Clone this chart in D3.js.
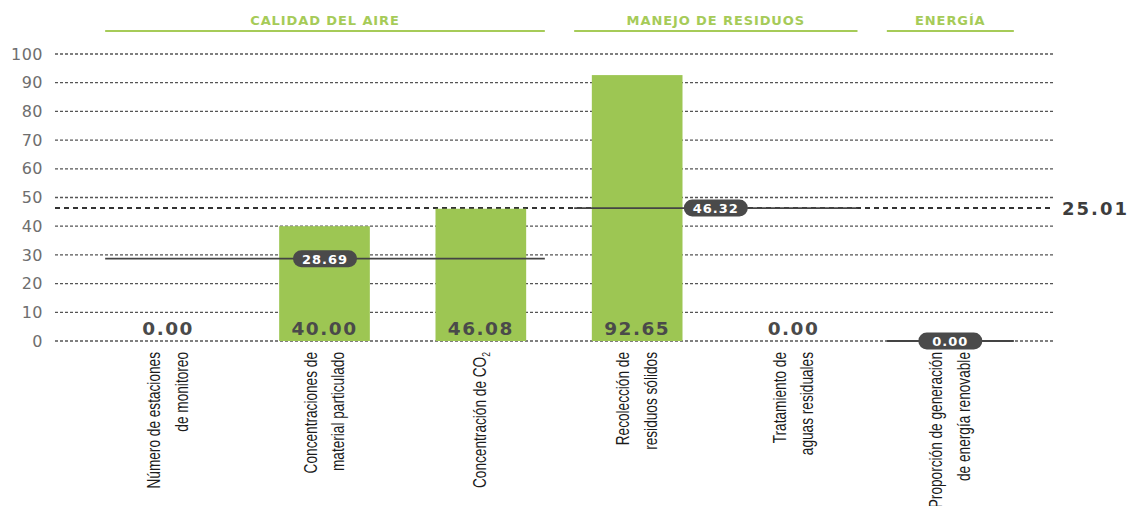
<!DOCTYPE html>
<html>
<head>
<meta charset="utf-8">
<script src="https://cdn.jsdelivr.net/npm/d3@7"></script>
<style>
  body { margin: 0; background: #fff; }
</style>
</head>
<body>
<div id="chart"></div>
<script>
// chart values
var categories = ["estaciones", "material", "co2", "residuos", "aguas", "energia"];
var catLabels = [
    ["Número de estaciones", "de monitoreo"],
    ["Concentraciones de", "material particulado"],
    ["Concentración de CO|2"],
    ["Recolección de", "residuos sólidos"],
    ["Tratamiento de", "aguas residuales"],
    ["Proporción de generación", "de energía renovable"]
];
var values = [0.00, 40.00, 46.08, 92.65, 0.00, 0.00];
var showValue = [true, true, true, true, true, false];

var groupNames = ["CALIDAD DEL AIRE", "MANEJO DE RESIDUOS", "ENERGÍA"];
var groupFirst = [0, 3, 5];
var groupLast = [2, 4, 5];
var groupAverages = [28.69, 46.32, 0.00];

var yTicks = [0, 10, 20, 30, 40, 50, 60, 70, 80, 90, 100];
var overallScore = 25.01;
var overallLineAt = 46.32;

var WIDTH = 1129;
var HEIGHT = 506;
var GREEN = "#9dc653";
var HEADER_GREEN = "#a6cb58";
var DARK = "#4a4a4a";

var svg = d3.select("#chart").append("svg")
    .attr("width", WIDTH)
    .attr("height", HEIGHT);

var xScale = d3.scaleBand()
    .domain(categories)
    .range([90, 1028])
    .paddingInner(0.42)
    .paddingOuter(0.21);

var yScale = d3.scaleLinear()
    .domain([0, 100])
    .range([341, 54]);

function center(i) { return xScale(categories[i]) + xScale.bandwidth() / 2; }
function groupStart(g) { return center(groupFirst[g]) - 63; }
function groupEnd(g) { return center(groupLast[g]) + 64; }

// gridlines + tick labels
var yAxis = d3.axisLeft(yScale)
    .tickValues(yTicks)
    .tickSize(0)
    .tickPadding(12);

var gAxis = svg.append("g")
    .attr("transform", "translate(55,0)")
    .call(yAxis);
gAxis.select(".domain").remove();
gAxis.selectAll("text")
    .style("font-family", "'DejaVu Sans', sans-serif")
    .style("font-size", "16px")
    .style("letter-spacing", "0.5px")
    .style("fill", "#6e6e6e");

svg.append("g")
    .selectAll("line")
    .data(yTicks)
    .enter().append("line")
    .attr("x1", 55)
    .attr("x2", 1053)
    .attr("y1", function(d) { return yScale(d); })
    .attr("y2", function(d) { return yScale(d); })
    .style("stroke", "#555")
    .style("stroke-width", 1.3)
    .style("stroke-dasharray", "3,2");

// overall score line
svg.append("line")
    .attr("x1", 55)
    .attr("x2", 1053)
    .attr("y1", yScale(overallLineAt))
    .attr("y2", yScale(overallLineAt))
    .style("stroke", "#333")
    .style("stroke-width", 2)
    .style("stroke-dasharray", "5,4");

svg.append("text")
    .attr("x", 1062)
    .attr("y", yScale(overallLineAt) + 7)
    .text(overallScore.toFixed(2))
    .style("font-family", "'DejaVu Sans', sans-serif")
    .style("font-weight", "bold")
    .style("font-size", "18px")
    .style("letter-spacing", "2px")
    .style("fill", "#3d3d3d");

// bars
svg.append("g")
    .selectAll("rect")
    .data(values)
    .enter().append("rect")
    .attr("x", function(d, i) { return xScale(categories[i]); })
    .attr("y", function(d) { return yScale(d); })
    .attr("width", xScale.bandwidth())
    .attr("height", function(d) { return yScale(0) - yScale(d); })
    .style("fill", GREEN);

// value labels
svg.append("g")
    .selectAll("text")
    .data(values)
    .enter().append("text")
    .filter(function(d, i) { return showValue[i]; })
    .attr("x", function(d, i) { return center(i); })
    .attr("y", 335)
    .attr("text-anchor", "middle")
    .text(function(d) { return d.toFixed(2); })
    .style("font-family", "'DejaVu Sans', sans-serif")
    .style("font-weight", "bold")
    .style("font-size", "18.5px")
    .style("letter-spacing", "1.5px")
    .style("fill", DARK);

// group headers
var groups = svg.append("g")
    .selectAll("g")
    .data(groupNames)
    .enter().append("g");

groups.append("line")
    .attr("x1", function(d, g) { return groupStart(g); })
    .attr("x2", function(d, g) { return groupEnd(g); })
    .attr("y1", 31)
    .attr("y2", 31)
    .style("stroke", HEADER_GREEN)
    .style("stroke-width", 2);

groups.append("text")
    .attr("x", function(d, g) { return (groupStart(g) + groupEnd(g)) / 2; })
    .attr("y", 25)
    .attr("text-anchor", "middle")
    .text(function(d) { return d; })
    .style("font-family", "'DejaVu Sans', sans-serif")
    .style("font-weight", "bold")
    .style("font-size", "13px")
    .style("letter-spacing", "0.9px")
    .style("fill", HEADER_GREEN);

// group average lines with pills
var avg = svg.append("g")
    .selectAll("g")
    .data(groupAverages)
    .enter().append("g");

avg.append("line")
    .attr("x1", function(d, g) { return groupStart(g); })
    .attr("x2", function(d, g) { return groupEnd(g); })
    .attr("y1", function(d) { return yScale(d); })
    .attr("y2", function(d) { return yScale(d); })
    .style("stroke", "#444")
    .style("stroke-width", 1.8);

avg.append("rect")
    .attr("x", function(d, g) { return (groupStart(g) + groupEnd(g)) / 2 - 32; })
    .attr("y", function(d) { return yScale(d) - 8.5; })
    .attr("width", 64)
    .attr("height", 17)
    .attr("rx", 8.5)
    .style("fill", DARK);

avg.append("text")
    .attr("x", function(d, g) { return (groupStart(g) + groupEnd(g)) / 2; })
    .attr("y", function(d) { return yScale(d) + 5; })
    .attr("text-anchor", "middle")
    .text(function(d) { return d.toFixed(2); })
    .style("font-family", "'DejaVu Sans', sans-serif")
    .style("font-weight", "bold")
    .style("font-size", "13px")
    .style("letter-spacing", "1px")
    .style("fill", "#fff");

// category labels (rotated, squeezed to look condensed)
var lineOffsets = { 1: [5], 2: [-8, 20] };

var labels = svg.append("g")
    .selectAll("text")
    .data(catLabels)
    .enter().append("text")
    .attr("transform", function(d, i) { return "translate(" + center(i) + ",352) rotate(-90) scale(0.78,1)"; })
    .attr("text-anchor", "end")
    .style("font-family", "'Liberation Sans', Arial, sans-serif")
    .style("font-size", "17.5px")
    .style("fill", "#1a1a1a");

labels.each(function(lines) {
    var el = d3.select(this);
    var offs = lineOffsets[lines.length];
    lines.forEach(function(line, k) {
        var parts = line.split("|");
        el.append("tspan")
            .attr("x", 0)
            .attr("y", offs[k])
            .text(parts[0]);
        if (parts.length > 1) {
            el.append("tspan")
                .attr("dy", 4)
                .style("font-size", "11px")
                .text(parts[1]);
        }
    });
});
</script>
</body>
</html>
